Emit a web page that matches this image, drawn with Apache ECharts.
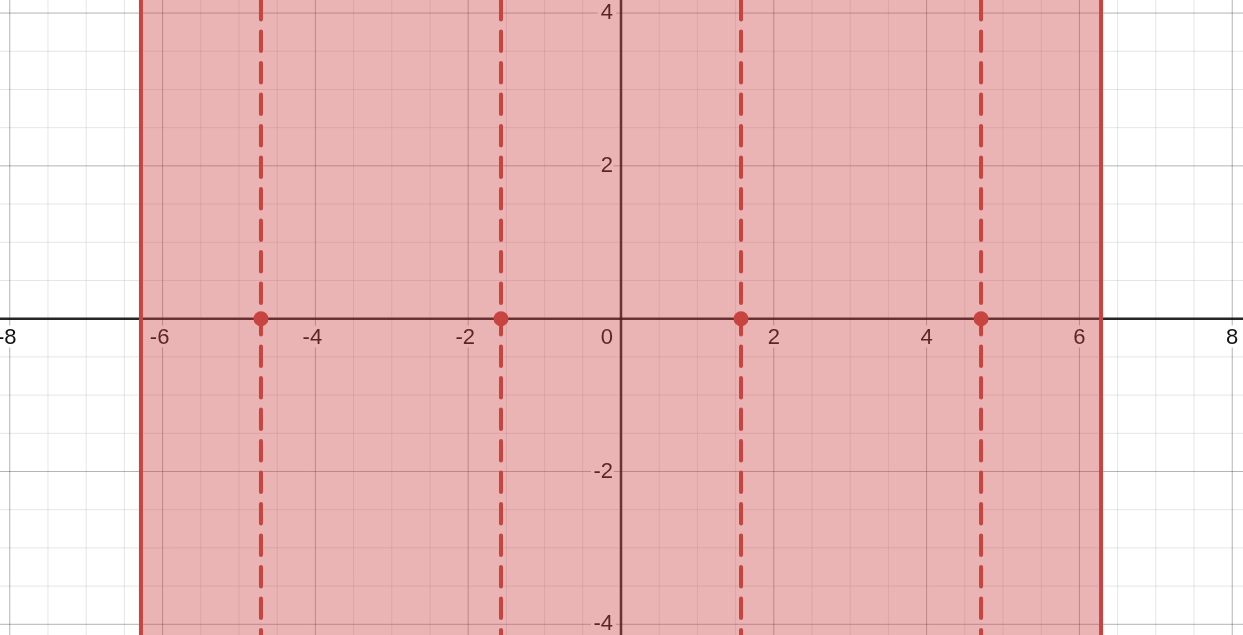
<!DOCTYPE html>
<html>
<head>
<meta charset="utf-8">
<script src="https://cdn.jsdelivr.net/npm/echarts@6/dist/echarts.min.js"></script>
<style>html,body{margin:0;padding:0;background:#fff}#c{width:1243px;height:635px}</style>
</head>
<body>
<div id="c"></div>
<script>
// ---- data ----
const xView = [-8.128, 8.141];
const yView = [-4.140, 4.171];
const xTickLabels = [-8, -6, -4, -2, 2, 4, 6, 8];
const yTickLabels = [-4, -2, 2, 4];
const xMinorGrid = [-7.5,-7,-6.5,-5.5,-5,-4.5,-3.5,-3,-2.5,-1.5,-1,-0.5,0.5,1,1.5,2.5,3,3.5,4.5,5,5.5,6.5,7,7.5];
const yMinorGrid = [-3.5,-3,-2.5,-1.5,-1,-0.5,0.5,1,1.5,2.5,3,3.5];
const shadeBounds = [-6.2832, 6.2832];           // -2π ≤ x ≤ 2π
const dashedX = [-4.7124, -1.5708, 1.5708, 4.7124]; // ±π/2, ±3π/2
const pointY = [0, 0, 0, 0];

const RED = '#c74440';

function vLine(api, x, style) {
  const a = api.coord([x, yView[1]]), b = api.coord([x, yView[0]]);
  return {type: 'line', shape: {x1: a[0], y1: a[1], x2: b[0], y2: b[1]}, style: style};
}
function hLine(api, y, style) {
  const a = api.coord([xView[0], y]), b = api.coord([xView[1], y]);
  return {type: 'line', shape: {x1: a[0], y1: a[1], x2: b[0], y2: b[1]}, style: style};
}
const minorStyle = {stroke: 'rgba(0,0,0,0.1)', lineWidth: 1};
const majorStyle = {stroke: 'rgba(0,0,0,0.3)', lineWidth: 1};
const axisStyle = {stroke: 'rgba(0,0,0,0.85)', lineWidth: 2.5};
const labelFont = '22px "Liberation Sans", Arial, sans-serif';

function labelText(x, y, text, align) {
  return {type: 'text', x: x, y: y, style: {
    text: text, fill: '#111', font: labelFont, align: align, verticalAlign: 'middle',
    textAlign: align, textVerticalAlign: 'middle',
    stroke: '#fff', lineWidth: 7, strokeFirst: true
  }};
}

const option = {
  animation: false,
  grid: {left: 0, right: 0, top: 0, bottom: 0},
  xAxis: {type: 'value', min: xView[0], max: xView[1], show: false},
  yAxis: {type: 'value', min: yView[0], max: yView[1], show: false},
  series: [
    { // minor x grid
      type: 'custom', z: 1, silent: true, clip: true,
      data: xMinorGrid.map(v => [v, 0]),
      renderItem: (p, api) => vLine(api, api.value(0), minorStyle)
    },
    { // minor y grid
      type: 'custom', z: 1, silent: true, clip: true,
      data: yMinorGrid.map(v => [0, v]),
      renderItem: (p, api) => hLine(api, api.value(1), minorStyle)
    },
    { // major x grid
      type: 'custom', z: 2, silent: true, clip: false,
      data: xTickLabels.map(v => [v, 0]),
      renderItem: (p, api) => vLine(api, api.value(0), majorStyle)
    },
    { // major y grid
      type: 'custom', z: 2, silent: true, clip: false,
      data: yTickLabels.map(v => [0, v]),
      renderItem: (p, api) => hLine(api, api.value(1), majorStyle)
    },
    { // axes
      type: 'custom', z: 3, silent: true, clip: false,
      data: [[0, 0]],
      renderItem: (p, api) => ({type: 'group', children: [
        vLine(api, 0, axisStyle),
        hLine(api, 0, axisStyle)
      ]})
    },
    { // x labels
      type: 'custom', z: 3.5, silent: true, clip: false,
      data: xTickLabels.map(v => [v, 0]),
      renderItem: (p, api) => {
        const v = api.value(0);
        const c = api.coord([v, 0]);
        return labelText(c[0] + (v < 0 ? -3 : 0), c[1] + 19, String(v), 'center');
      }
    },
    { // y labels + origin
      type: 'custom', z: 3.5, silent: true, clip: false,
      data: yTickLabels.map(v => [0, v]).concat([[0, 0]]),
      renderItem: (p, api) => {
        const v = api.value(1);
        const c = api.coord([0, v]);
        return labelText(c[0] - 8, c[1] + (v === 0 ? 19 : 0), String(v), 'right');
      }
    },
    { // shaded region
      type: 'custom', z: 4, silent: true, clip: true,
      data: [[shadeBounds[0], shadeBounds[1]]],
      renderItem: (p, api) => {
        const a = api.coord([api.value(0), yView[1]]);
        const b = api.coord([api.value(1), yView[0]]);
        return {type: 'group', children: [
          {type: 'rect', shape: {x: a[0], y: a[1], width: b[0] - a[0], height: b[1] - a[1]},
           style: {fill: 'rgba(199,68,64,0.4)'}},
          vLine(api, api.value(0), {stroke: RED, lineWidth: 4}),
          vLine(api, api.value(1), {stroke: RED, lineWidth: 4})
        ]};
      }
    },
    { // dashed lines
      type: 'custom', z: 5, silent: true, clip: true,
      data: dashedX.map(v => [v, 0]),
      renderItem: (p, api) => vLine(api, api.value(0),
        {stroke: RED, lineWidth: 4, lineDash: [19.5, 12], lineCap: 'round'})
    },
    { // points
      type: 'scatter', z: 6, silent: true,
      symbol: 'circle', symbolSize: 15,
      itemStyle: {color: RED, opacity: 1},
      data: dashedX.map((x, i) => [x, pointY[i]])
    }
  ]
};
const chart = echarts.init(document.getElementById('c'), null, {renderer: 'canvas'});
chart.setOption(option);
</script>
</body>
</html>
